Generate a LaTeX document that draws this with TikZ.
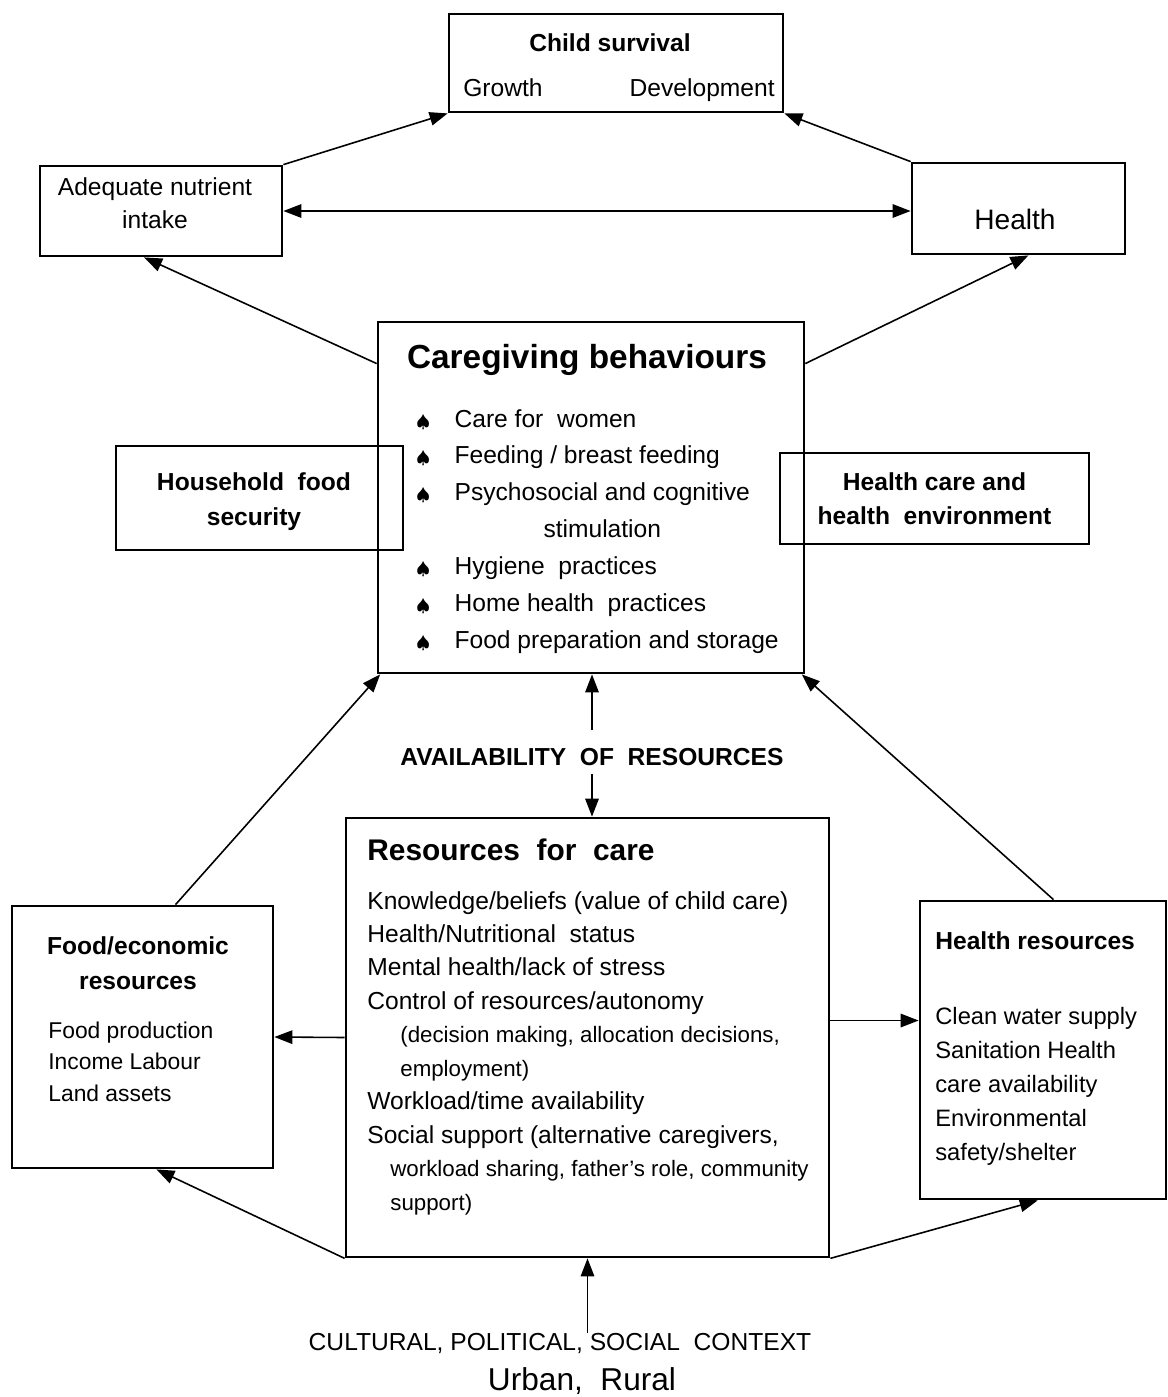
\documentclass[tikz,border=0pt]{standalone}
\usepackage{fontspec}
\setmainfont{Liberation Sans}
\usepackage{tikz}
\usetikzlibrary{positioning,calc,arrows.meta}

\newcommand{\sz}[2]{\fontsize{#1}{#2}\selectfont}
\newcommand{\cbullet}{{\normalsize$\spadesuit$}}

\tikzset{
	box/.style={draw, line width=1.6pt, inner sep=0pt},
	txt/.style={inner sep=0pt},
	arr/.style={-{Triangle[length=3.6mm,width=2.7mm]}, line width=0.9pt},
	dblarr/.style={{Triangle[length=3.6mm,width=2.7mm]}-{Triangle[length=3.6mm,width=2.7mm]}, line width=0.9pt}
}

\begin{document}
\begin{tikzpicture}[x=0.02cm, y=-0.02cm]
		\useasboundingbox (0,0) rectangle (1168,1397);
		
		% outcome boxes
		\node[box, minimum width=6.68cm, minimum height=1.96cm] (surv) at (616,63) {};
		\node[txt, font=\sz{14}{17}\bfseries, anchor=base] (survtitle) at (610,51) {Child survival};
		\node[txt, font=\sz{14}{17}, anchor=base west] (grow) at (463,96) {Growth};
		\node[txt, font=\sz{14}{17}, anchor=base east] (dev) at (775,96) {Development};
		
		\node[box, minimum width=4.84cm, minimum height=1.8cm] (ade) at (161,211) {};
		\node[txt, font=\sz{14}{18.7}, align=center] (adetext) at (155,203) {Adequate nutrient\\intake};
		
		\node[box, minimum width=4.26cm, minimum height=1.82cm] (hlth) at (1018.5,208.5) {};
		\node[txt, font=\sz{16}{19}] (hlthtext) at (1015,219) {Health};
		
		% caregiving
		\node[box, minimum width=8.52cm, minimum height=7.02cm] (care) at (591,497.5) {};
		\node[txt, font=\sz{19}{22}\bfseries] (caretitle) at (587,360) {Caregiving behaviours};
		\node[txt, font=\sz{14}{21}, anchor=base west] (carelist) at (416,427) {%
			\begin{tabular}[t]{@{}c@{\hspace{14pt}}l@{}}
				\cbullet & Care for\ \ women\\
				\cbullet & Feeding / breast feeding\\
				\cbullet & \begin{tabular}[t]{@{}c@{}}Psychosocial and cognitive\\stimulation\end{tabular}\\
				\cbullet & Hygiene\ \ practices\\
				\cbullet & Home health\ \ practices\\
				\cbullet & Food preparation and storage
			\end{tabular}};
		
		\node[box, minimum width=5.74cm, minimum height=2.08cm] (hfood) at (259.5,498) {};
		\node[txt, font=\sz{14}{19.8}\bfseries, align=center] (hfoodtext) at (254,502) {Household\ \ food\\security};
		\node[box, minimum width=6.18cm, minimum height=1.82cm, align=center,
			font=\sz{14}{19.3}\bfseries] (hcare) at (934.5,498.5) {Health care and\\health\ \ environment};
		
		\node[txt, font=\sz{14}{17}\bfseries] (avail) at (592,757) {AVAILABILITY\ \ OF\ \ RESOURCES};
		
		% resources
		\node[box, minimum width=9.66cm, minimum height=8.78cm] (res) at (587.5,1037.5) {};
		\node[txt, font=\sz{17}{20}\bfseries, anchor=base west] (restitle) at (367,860) {Resources\ \ for\ \ care};
		\node[txt, font=\sz{14}{19.05}, anchor=base west] (reslist) at (367,909) {%
			\begin{tabular}[t]{@{}l@{}}
				Knowledge/beliefs (value of child care)\\
				Health/Nutritional\ \ status\\
				Mental health/lack of stress\\
				Control of resources/autonomy\\
				\hspace*{0.66cm}{\sz{12.7}{19.05}(decision making, allocation decisions,}\\
				\hspace*{0.66cm}{\sz{12.7}{19.05}employment)}\\
				Workload/time availability\\
				Social support (alternative caregivers,\\
				\hspace*{0.46cm}{\sz{12.7}{19.05}workload sharing, father's role, community}\\
				\hspace*{0.46cm}{\sz{12.7}{19.05}support)}
			\end{tabular}};
		
		\node[box, minimum width=5.22cm, minimum height=5.24cm] (food) at (142.5,1037) {};
		\node[txt, font=\sz{14}{19.8}\bfseries, align=center] (foodtitle) at (138,963.5) {Food/economic\\resources};
		\node[txt, font=\sz{13}{18.1}, anchor=base west] (foodlist) at (48,1038) {%
			\begin{tabular}[t]{@{}l@{}}
				Food production\\
				Income Labour\\
				Land assets
			\end{tabular}};
		
		\node[box, minimum width=4.92cm, minimum height=5.96cm] (hres) at (1043,1050) {};
		\node[txt, font=\sz{14}{17}\bfseries, anchor=base west] (hrestitle) at (935,949) {Health resources};
		\node[txt, font=\sz{13.5}{19.4}, anchor=base west] (hreslist) at (935,1024) {%
			\begin{tabular}[t]{@{}l@{}}
				Clean water supply\\
				Sanitation Health\\
				care availability\\
				Environmental\\
				safety/shelter
			\end{tabular}};
		
		\node[txt, font=\sz{14}{17}] (ctx) at (560,1343) {CULTURAL, POLITICAL, SOCIAL\ \ CONTEXT};
		\node[txt, font=\sz{18}{21}] (urb) at (582,1381) {Urban,\ \ Rural};
		
		% arrows
		\draw[arr] (ade.north east) -- (surv.south west);
		\draw[arr] (hlth.north west) -- (surv.south east);
		\draw[dblarr] (ade.east) -- (ade.east -| hlth.west);
		\draw[arr] (care.148.5) -- (ade.250);
		\draw[arr] (care.32) -- (hlth.-78);
		\draw[arr] (food.76) -- (care.220);
		\draw[arr] (hres.86.5) -- (care.-40.6);
		\draw[arr, shorten <=0.35cm] (avail.north) -- (avail.north |- care.south);
		\draw[arr, shorten <=0.15cm] (avail.south) -- (avail.south |- res.north);
		\draw[arr] (res.west) -- (food.east);
		\draw[arr] (res.4) -- (res.4 -| hres.west);
		\draw[arr] (res.south west) -- (food.-84.5);
		\draw[arr] (res.south east) -- (hres.268);
		\draw[arr] (ctx.north -| res.south) -- (res.south);
\end{tikzpicture}
\end{document}
